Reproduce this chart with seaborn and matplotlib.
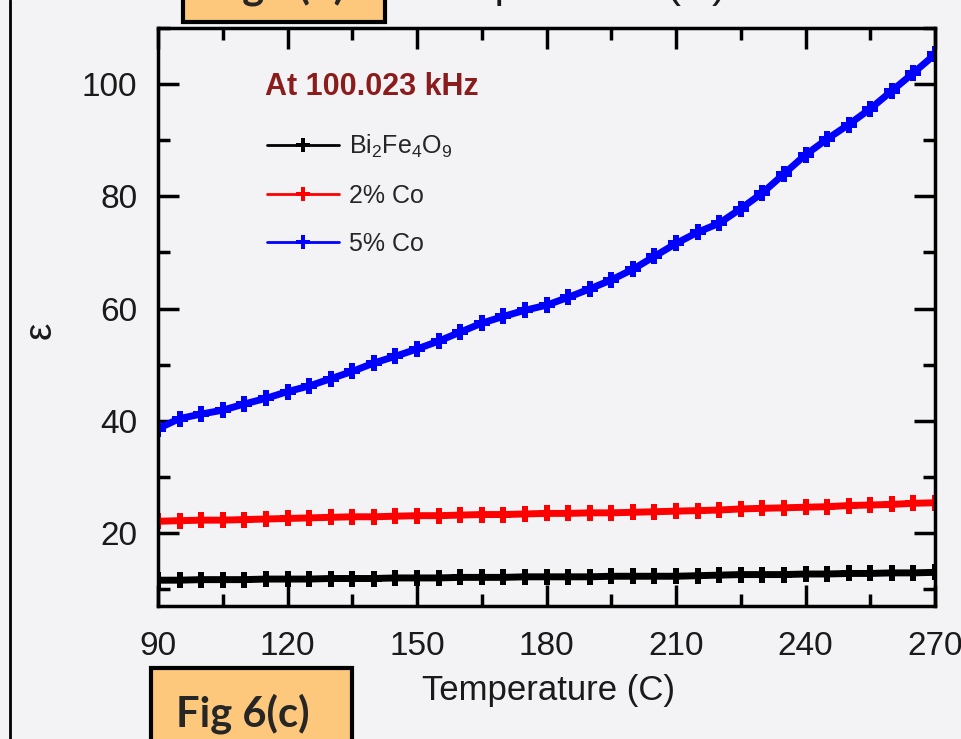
import numpy as np
import pandas as pd
import matplotlib.pyplot as plt
import matplotlib.patches as mpatches
from matplotlib.lines import Line2D
from matplotlib.ticker import MultipleLocator
import seaborn as sns

# values (every 5 C)
temperature = [90, 95, 100, 105, 110, 115, 120, 125, 130, 135, 140, 145, 150,
               155, 160, 165, 170, 175, 180, 185, 190, 195, 200, 205, 210, 215,
               220, 225, 230, 235, 240, 245, 250, 255, 260, 265, 270]
eps_bfo = [11.6, 11.6, 11.7, 11.7, 11.7, 11.8, 11.8, 11.8, 11.9, 11.9, 11.9, 12.0,
           12.0, 12.0, 12.1, 12.1, 12.1, 12.2, 12.2, 12.2, 12.2, 12.3, 12.3, 12.3,
           12.3, 12.4, 12.5, 12.6, 12.6, 12.6, 12.7, 12.7, 12.8, 12.8, 12.9, 12.9, 13.0]
eps_co2 = [22.1, 22.2, 22.3, 22.3, 22.4, 22.5, 22.6, 22.7, 22.8, 22.9, 22.9, 23.0,
           23.1, 23.1, 23.2, 23.3, 23.3, 23.4, 23.5, 23.5, 23.6, 23.6, 23.7, 23.8,
           23.9, 24.0, 24.1, 24.3, 24.4, 24.5, 24.6, 24.7, 24.9, 25.0, 25.1, 25.3, 25.4]
eps_co5 = [38.6, 40.4, 41.2, 41.9, 43.0, 44.0, 45.2, 46.2, 47.5, 48.8, 50.3, 51.5,
           52.8, 54.2, 55.8, 57.4, 58.6, 59.7, 60.6, 62.0, 63.5, 65.1, 67.0, 69.3,
           71.6, 73.6, 75.2, 77.8, 80.6, 84.0, 87.4, 90.2, 92.8, 95.6, 98.8, 102.0, 105.3]

samples = ['Bi$_2$Fe$_4$O$_9$', '2% Co', '5% Co']
colors = ['#000000', '#ff0000', '#0000ff']

df = pd.DataFrame({
    'T': temperature * 3,
    'eps': eps_bfo + eps_co2 + eps_co5,
    'sample': [samples[0]] * len(temperature) + [samples[1]] * len(temperature)
              + [samples[2]] * len(temperature),
})

bg = '#f3f3f6'
sns.set_style('ticks')
plt.rcParams['font.family'] = ['Liberation Sans', 'DejaVu Sans']
plt.rcParams['mathtext.default'] = 'regular'

fig = plt.figure(figsize=(9.62, 7.39), dpi=100, facecolor=bg)
ax = fig.add_axes([158 / 962, 1 - 606 / 739, 777 / 962, 578 / 739])
ax.set_facecolor(bg)

sns.lineplot(data=df, x='T', y='eps', hue='sample', palette=dict(zip(samples, colors)),
             marker='P', markersize=12, markeredgewidth=0, linewidth=5,
             legend=False, ax=ax)

ax.set_xlim(90, 270)
ax.set_ylim(7, 110)
ax.xaxis.set_major_locator(MultipleLocator(30))
ax.xaxis.set_minor_locator(MultipleLocator(15))
ax.yaxis.set_major_locator(MultipleLocator(20))
ax.yaxis.set_minor_locator(MultipleLocator(10))
ax.tick_params(which='both', direction='in', top=True, right=True,
               width=2.5, color='black', labelsize=24, labelcolor='#1a1a1a')
ax.tick_params(which='major', length=15)
ax.tick_params(which='minor', length=8.5)
ax.tick_params(axis='x', pad=18)
ax.tick_params(axis='y', pad=15)
for s in ax.spines.values():
    s.set_linewidth(2.5)
    s.set_color('black')

ax.set_xlabel('Temperature (C)', fontsize=25, color='#1a1a1a')
ax.set_ylabel('ε', fontsize=28, color='#1a1a1a')
ax.xaxis.set_label_coords(0.503, -0.118)
ax.yaxis.set_label_coords(-0.128, 0.477)

ax.text(0.138, 0.898, 'At 100.023 kHz', transform=ax.transAxes, fontsize=22,
        fontweight='bold', color='#8b1c1c', va='center', ha='left')

handles = [Line2D([], [], color=c, lw=2, marker='P', ms=10, mew=0) for c in colors]
ax.legend(handles, samples, loc='upper left', bbox_to_anchor=(0.140, 0.818),
          frameon=False, fontsize=18, handlelength=2.9, handletextpad=0.4,
          labelspacing=0.95, borderpad=0, borderaxespad=0)

# page decorations around the panel
fig.add_artist(Line2D([10 / 962, 10 / 962], [0, 1], color='black', lw=2))
fig.add_artist(mpatches.Rectangle((151 / 962, -0.05), 201 / 962, (739 - 668) / 739 + 0.05,
                                  transform=fig.transFigure, fc='#fdc77c', ec='black', lw=3))
fig.text(176 / 962, 1 - 726 / 739, 'Fig 6(c)', fontsize=30, fontweight='bold',
         family='Lato', va='baseline', ha='left')
fig.add_artist(mpatches.Rectangle((183 / 962, 1 - 22 / 739), 202 / 962, 0.1,
                                  transform=fig.transFigure, fc='#fdc77c', ec='black', lw=3))
fig.text(208 / 962, 1 + 2 / 739, 'Fig 6(b)', fontsize=30, fontweight='bold',
         family='Lato', va='baseline', ha='left')
fig.text(413 / 962, 1 + 3 / 739, 'Temperature (C)', fontsize=31, color='#1a1a1a',
         va='baseline', ha='left')

fig.savefig('out.png', dpi=100, facecolor=fig.get_facecolor())
